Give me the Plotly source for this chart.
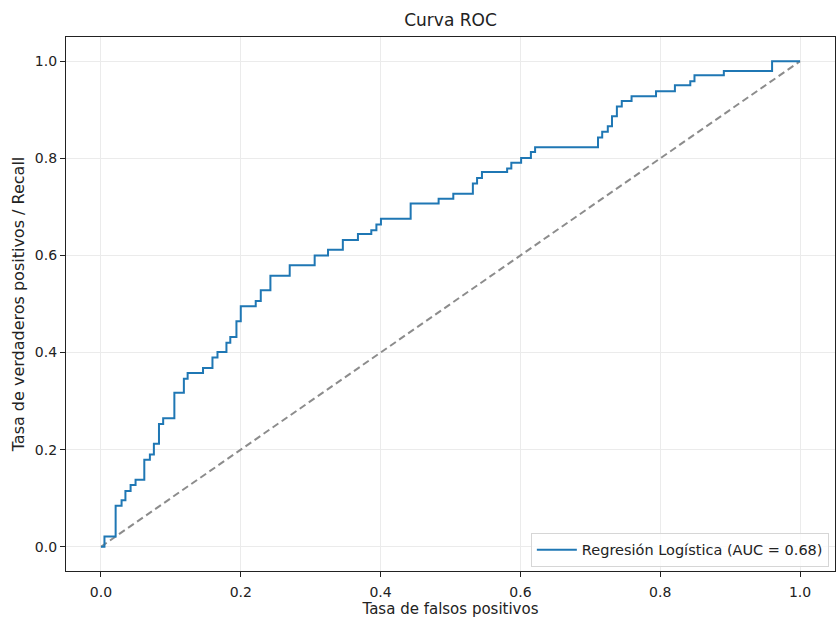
import plotly.graph_objects as go

# ROC step corners (fpr, tpr): horizontal move then vertical rise
fpr = [0.0, 0.005, 0.021, 0.0295, 0.035, 0.0424, 0.0495, 0.062, 0.070, 0.0757, 0.083, 0.089,
       0.105, 0.1186, 0.124, 0.146, 0.1595, 0.1667, 0.1795, 0.185, 0.1938, 0.200, 0.2214,
       0.2286, 0.2424, 0.270, 0.3057, 0.3248, 0.346, 0.3676, 0.3867, 0.394, 0.4005, 0.443,
       0.483, 0.504, 0.532, 0.538, 0.545, 0.581, 0.587, 0.601, 0.615, 0.621, 0.711, 0.717,
       0.725, 0.731, 0.738, 0.745, 0.759, 0.794, 0.821, 0.843, 0.849, 0.891, 0.960, 1.0]
tpr = [0.0, 0.021, 0.0845, 0.0955, 0.115, 0.127, 0.138, 0.179, 0.19, 0.212, 0.253, 0.2646,
       0.317, 0.346, 0.358, 0.368, 0.39, 0.401, 0.42, 0.432, 0.4646, 0.4955, 0.506,
       0.5285, 0.558, 0.58, 0.60, 0.6117, 0.632, 0.644, 0.652, 0.664, 0.6756, 0.707,
       0.717, 0.727, 0.748, 0.7595, 0.772, 0.779, 0.791, 0.801, 0.813, 0.823, 0.843, 0.855,
       0.866, 0.887, 0.907, 0.918, 0.928, 0.938, 0.9505, 0.959, 0.971, 0.980, 1.0, 1.0]
diag_x = [0, 1]
diag_y = [0, 1]
auc_label = "Regresión Logística (AUC = 0.68)"
x_ticks = [0.0, 0.2, 0.4, 0.6, 0.8, 1.0]
y_ticks = [0.0, 0.2, 0.4, 0.6, 0.8, 1.0]

FONT = "DejaVu Sans"
TXT = "#222222"

fig = go.Figure()
fig.add_trace(go.Scatter(x=diag_x, y=diag_y, mode="lines", showlegend=False,
                         line=dict(color="#8c8c8c", width=2, dash="7px,4px"), hoverinfo="skip"))
fig.add_trace(go.Scatter(x=fpr, y=tpr, mode="lines", name=auc_label,
                         line=dict(color="#1f77b4", width=2, shape="hv")))

axis_common = dict(
    showline=True, linecolor="#222222", linewidth=1.2, mirror=True,
    ticks="outside", ticklen=5, tickwidth=1, tickcolor="#222222",
    showgrid=True, gridcolor="#ebebeb", gridwidth=1, zeroline=False,
    tickfont=dict(family=FONT, size=14, color=TXT),
)

fig.update_layout(
    width=836, height=618,
    margin=dict(l=66, r=1, t=37, b=47),
    paper_bgcolor="white", plot_bgcolor="white",
    font=dict(family=FONT, size=14, color=TXT),
    title=dict(text="Curva ROC", x=0.5, xanchor="center", y=1 - 20 / 618, yanchor="middle",
               xref="paper", font=dict(family=FONT, size=17, color=TXT)),
    xaxis=dict(range=[-0.05, 1.05], tickvals=x_ticks, ticktext=[f"{v:.1f}" for v in x_ticks],
               ticklabelstandoff=3,
               title=dict(text="Tasa de falsos positivos", standoff=2,
                          font=dict(family=FONT, size=15, color=TXT)), **axis_common),
    yaxis=dict(range=[-0.05, 1.05], tickvals=y_ticks, ticktext=[f"{v:.1f}" for v in y_ticks],
               title=dict(text="Tasa de verdaderos positivos / Recall", standoff=6,
                          font=dict(family=FONT, size=16, color=TXT)), **axis_common),
    legend=dict(x=0.992, y=0.008, xanchor="right", yanchor="bottom",
                bgcolor="rgba(255,255,255,0.8)", bordercolor="#d6d6d6", borderwidth=1,
                font=dict(family=FONT, size=14.5, color=TXT), itemwidth=40,
                tracegroupgap=0),
    showlegend=True,
)

fig.write_html("out.html")
